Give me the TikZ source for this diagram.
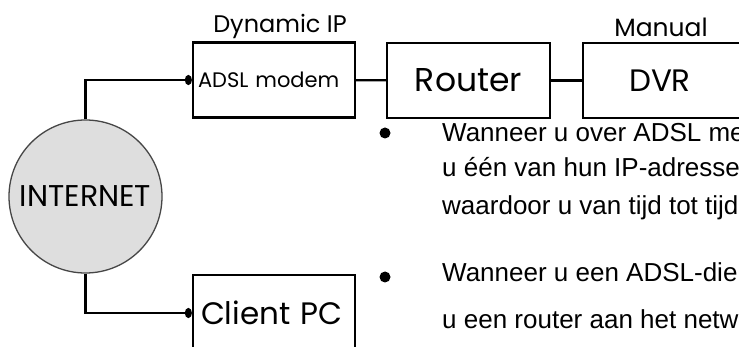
\documentclass[tikz,border=0pt]{standalone}
\usepackage{fontspec}
\setmainfont{Liberation Sans}
\newfontfamily\gothic{Poppins}
\usepackage{tikz}
\usetikzlibrary{arrows.meta, positioning}
\definecolor{cloudgray}{RGB}{222,222,222}
\definecolor{rimgray}{RGB}{70,70,70}

\begin{document}
\begin{tikzpicture}[
    x=1pt, y=-1pt,
    devbox/.style={rectangle, draw=black, fill=white, line width=2.2pt,
        minimum height=75pt, font=\gothic\fontsize{#1}{#1}\selectfont},
    tag/.style={font=\gothic\fontsize{#1}{#1}\selectfont, inner sep=0pt},
    cloud/.style={circle, draw=rimgray, fill=cloudgray, line width=1.3pt,
        minimum size=153pt, inner sep=0pt, font=\gothic\fontsize{30}{30}\selectfont},
    wire/.style={line width=2.2pt, -{Circle[length=7pt, width=10pt]}},
    link/.style={line width=2.2pt},
    dot/.style={circle, fill=black, minimum size=11pt, inner sep=0pt},
    txt/.style={anchor=base west, inner sep=0pt, font=\fontsize{26}{26}\selectfont},
]
\useasboundingbox (0,0) rectangle (739,347);

% Row 1: modem, router, DVR
\node[devbox=21, minimum width=162pt, inner xsep=5pt, text width=152pt, align=left]
    (modem) at (274,80) {ADSL modem};
\node[devbox=33, minimum width=163pt] (router) at (468.5,80.5) {Router};
\node[devbox=31, anchor=west, inner xsep=46pt, text width=120pt, align=left]
    (dvr) at (582,80.5) {DVR};
\node[tag=24] (dynip) at (280,26) {Dynamic IP};
\node[tag=25] (manual) at (661,27) {Manual};

\draw[link] (modem) -- (router);
\draw[link] (router) -- (dvr);

% Internet and client
\node[cloud] (internet) at (85.5,196.5) {INTERNET};
\node[devbox=31, minimum width=162pt, inner xsep=8pt, text width=146pt, align=left,
    minimum height=76pt] (client) at (274,313) {Client PC};

\draw[wire] (internet.north) |- (modem.west);
\draw[wire] (internet.south) |- (client.west);

% Bullet text
\node[dot] (b1) at (385,133) {};
\node[dot] (b2) at (385,277) {};
\node[txt] (l1) at (442,142) {Wanneer u over ADSL me};
\node[txt] (l2) at (442,177) {u één van hun IP-adresse};
\node[txt] (l3) at (442,215) {waardoor u van tijd tot tijd};
\node[txt] (l4) at (442,282) {Wanneer u een ADSL-die};
\node[txt] (l5) at (442,328) {u een router aan het netw};

\end{tikzpicture}
\end{document}
